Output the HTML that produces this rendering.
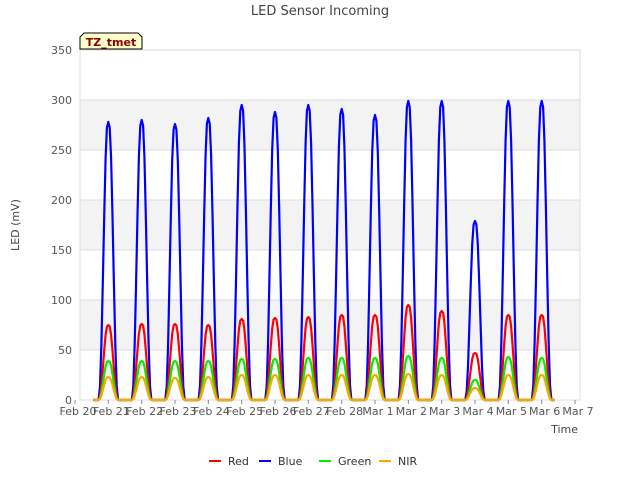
<!DOCTYPE html>
<html><head><meta charset="utf-8"><style>
body{margin:0;background:#fff;font-family:"Liberation Sans","DejaVu Sans",sans-serif}
</style></head><body>
<svg width="640" height="480" xmlns="http://www.w3.org/2000/svg" font-family="DejaVu Sans, Liberation Sans, sans-serif">
<rect width="640" height="480" fill="#fff"/>
<g id="bands"></g>
<g id="grid"></g>
<rect x="80" y="50" width="500" height="350" fill="none" stroke="#ddd"/>
<g id="series" stroke-linejoin="round"></g>
<g id="axes" font-size="11" fill="#555"></g>
<text x="320" y="15" text-anchor="middle" font-size="13" fill="#444">LED Sensor Incoming</text>
<text x="19" y="225" text-anchor="middle" font-size="11" fill="#444" transform="rotate(-90 19 225)">LED (mV)</text>
<text x="578" y="433" text-anchor="end" font-size="11" fill="#444">Time</text>
<g>
<path d="M80,49 L80,37 L84,33 L138,33 L142,37 L142,49 Z" fill="#ffffcc" stroke="#000"/>
<text x="111" y="46" text-anchor="middle" font-size="11" font-weight="bold" fill="#8b0000">TZ_tmet</text>
</g>
<g id="legend" font-size="11" fill="#333"></g>
</svg>
<script>
const dayLabels=["Feb 20","Feb 21","Feb 22","Feb 23","Feb 24","Feb 25","Feb 26","Feb 27","Feb 28","Mar 1","Mar 2","Mar 3","Mar 4","Mar 5","Mar 6","Mar 7"];
const yTicks=[0,50,100,150,200,250,300,350];
const peakDays=[1,2,3,4,5,6,7,8,9,10,11,12,13,14];
const bluePeaks=[278,280,276,282,295,288,295,291,285,299,299,179,299,299];
const redPeaks=[75,76,76,75,81,82,83,85,85,95,89,47,85,85];
const greenPeaks=[39,39,39,39,41,41,42,42,42,44,42,20,43,42];
const nirPeaks=[23,23,22,23,25,25,25,25,25,26,25,12,25,25];
const shapeHours=[-7,-6,-5,-4,-3,-2,-1,0,1,2,3,4,5,6,7];
const shapeFrac=[0,0.05,0.2,0.42,0.66,0.87,0.98,1,0.98,0.87,0.66,0.42,0.2,0.05,0];
const NS="http://www.w3.org/2000/svg";
const X=d=>75+d*33.333, Y=v=>400-v*(350/350);
function mk(t,a,p){const e=document.createElementNS(NS,t);for(const k in a)e.setAttribute(k,a[k]);(p||document.querySelector('svg')).appendChild(e);return e;}
const bands=document.getElementById('bands'),grid=document.getElementById('grid'),axes=document.getElementById('axes');
for(let i=0;i<yTicks.length-1;i++){if(i%2===1){const r=mk('rect',{x:80,y:Y(yTicks[i+1]),width:500,height:Y(yTicks[i])-Y(yTicks[i+1]),fill:'#f3f3f3'},bands);

}}
yTicks.forEach(v=>{const l=mk('line',{x1:80,x2:580,y1:Y(v),y2:Y(v),stroke:'#ddd'},grid);


const t=mk('text',{x:72,y:Y(v)+4,'text-anchor':'end'},axes);t.textContent=v;

});
dayLabels.forEach((s,i)=>{const tk=mk('line',{x1:X(i),x2:X(i),y1:400,y2:404,stroke:'#888'},axes);


const t=mk('text',{x:X(i)+3,y:415,'text-anchor':'middle'},axes);t.textContent=s;

});
const series=[["Red","#ff0000",redPeaks],["Blue","#0000ff",bluePeaks],["Green","#00ee00",greenPeaks],["NIR","#ffa500",nirPeaks]];
const sg=document.getElementById('series');
[1,0,2,3].forEach(si=>{const [name,col,pk]=series[si];let d=`M${X(0.55)},${Y(0)}`;
peakDays.forEach((day,k)=>{shapeHours.forEach((h,j)=>{d+=` L${X(day+h/24).toFixed(1)},${Y(pk[k]*shapeFrac[j]).toFixed(1)}`;});});
d+=` L${X(14.4)},${Y(0)}`;
const p=mk('path',{d:d,fill:'none',stroke:col,'stroke-width':2.2},sg);

});
const lg=document.getElementById('legend');const lx=[209,259,319,379];
series.forEach(([name,col],i)=>{const l=mk('line',{x1:lx[i],x2:lx[i]+12,y1:461,y2:461,stroke:col,'stroke-width':2},lg);


const t=mk('text',{x:lx[i]+19,y:465},lg);t.textContent=name;

});
</script>
</body></html>
